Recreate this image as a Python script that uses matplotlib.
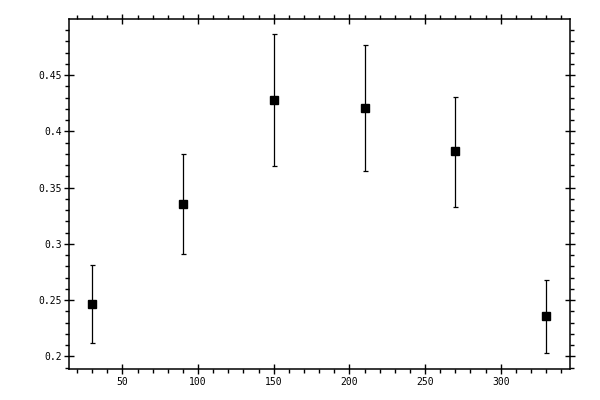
import matplotlib
matplotlib.use('Agg')
import matplotlib.pyplot as plt
from matplotlib.ticker import MultipleLocator

# data
x = [30, 90, 150, 210, 270, 330]
y = [0.2464, 0.3357, 0.4277, 0.4205, 0.3821, 0.2357]
y_lo = [0.2119, 0.2913, 0.3688, 0.3643, 0.3330, 0.2029]
y_hi = [0.2809, 0.3795, 0.4869, 0.4770, 0.4304, 0.2681]

err_lo = [v - lo for v, lo in zip(y, y_lo)]
err_hi = [hi - v for v, hi in zip(y, y_hi)]

plt.rcParams['font.family'] = 'DejaVu Sans Mono'
plt.rcParams['font.size'] = 7

fig = plt.figure(figsize=(6, 4), dpi=100)
ax = fig.add_axes([0.1158, 0.0775, 0.9505 - 0.1158, 0.9518 - 0.0775])

ax.errorbar(x, y, yerr=[err_lo, err_hi], fmt='s', color='black',
            markersize=5.2, elinewidth=0.9, capsize=1.8, capthick=0.9)

ax.set_xlim(15, 346)
ax.set_ylim(0.1887, 0.4996)

ax.xaxis.set_major_locator(MultipleLocator(50))
ax.xaxis.set_minor_locator(MultipleLocator(10))
ax.yaxis.set_major_locator(MultipleLocator(0.05))
ax.yaxis.set_minor_locator(MultipleLocator(0.01))
ax.yaxis.set_major_formatter(plt.FuncFormatter(lambda v, p: ('%g' % round(v, 3))))

ax.tick_params(which='both', top=True, right=True, labeltop=False, labelright=False)
ax.tick_params(which='major', direction='inout', length=7, width=1, pad=2)
ax.tick_params(which='minor', direction='out', length=3, width=1)

for s in ax.spines.values():
    s.set_linewidth(1.1)

fig.savefig('out.png', dpi=100)
